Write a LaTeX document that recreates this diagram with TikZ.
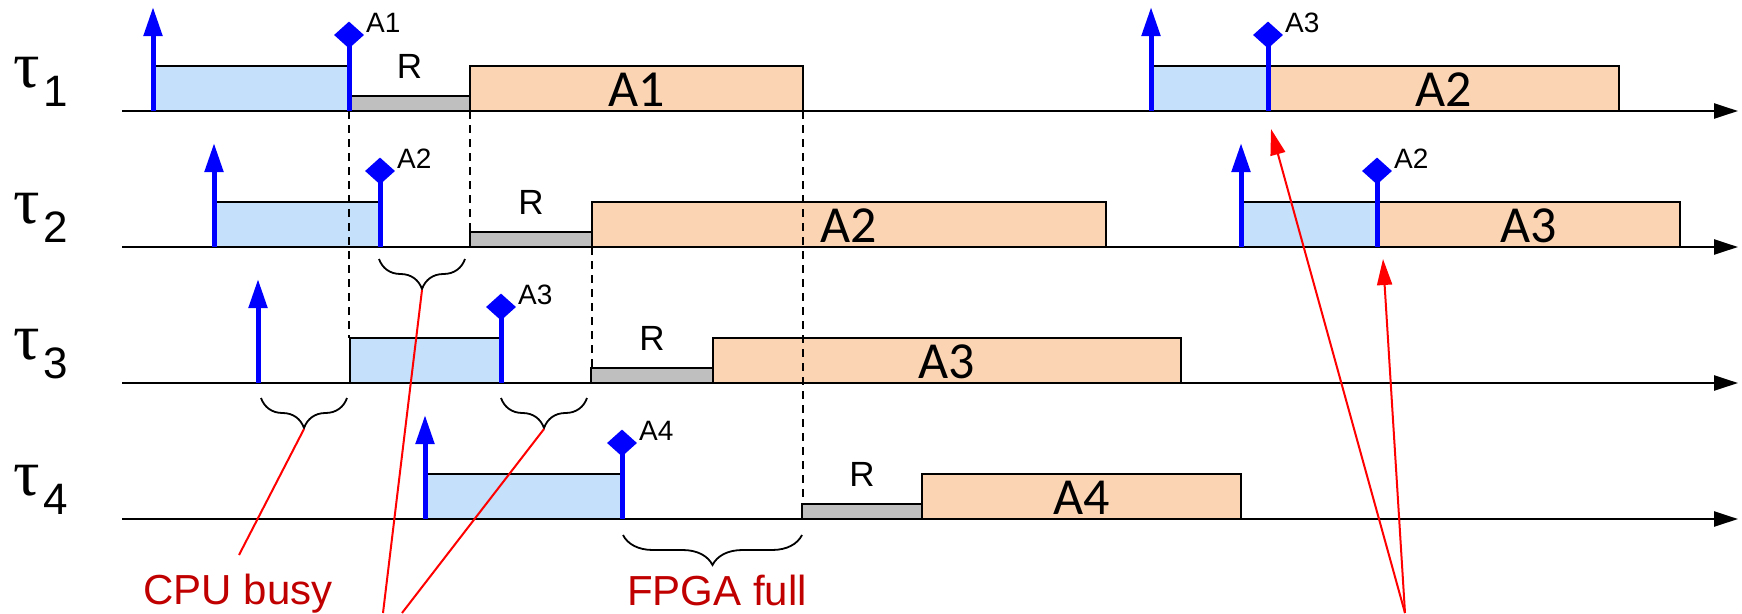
\documentclass[tikz,border=0pt]{standalone}
\usepackage{fontspec}
\setmainfont{Liberation Sans}
\newfontfamily\calib{Carlito}
\newfontfamily\tauserif{Liberation Serif}
\usetikzlibrary{arrows.meta,shapes.geometric,decorations.pathreplacing}
\definecolor{cpufill}{HTML}{C5E0FA}
\definecolor{fpgafill}{HTML}{FBD4B4}
\definecolor{rfill}{HTML}{BFBFBF}
\definecolor{txtred}{HTML}{C00000}
\newcommand\relmk[3]{%
  \coordinate (#1) at (#2,#3);
  \draw[relarrow] (#1) -- ++(0,-104);}
\newcommand\dlmk[4]{%
  \node[dlmark] (#1) at (#2,#3-76) {};
  \draw[dlstem] (#2,#3) -- (#1.center);
  \node[dllabel] (#1l) at (#2+17,#3-79) {#4};}
\newcommand\taulab[3]{%
  \node[taulabel] (#1) at (13,#2-24) {{\tauserif\fontsize{66}{66}\selectfont τ}\kern4pt\raisebox{-19pt}{\fontsize{44}{44}\selectfont #3}};}
\begin{document}
\begin{tikzpicture}[x=1pt,y=-1pt,
 axisline/.style={line width=2.5pt,-{Triangle[length=24pt,width=15pt]}},
 cpubox/.style={draw=black,line width=1.5pt,fill=cpufill},
 fpgabox/.style={draw=black,line width=1.5pt,fill=fpgafill},
 rbox/.style={draw=black,line width=1.5pt,fill=rfill},
 relarrow/.style={blue,line width=5pt,-{Triangle[length=29pt,width=18pt]}},
 dlstem/.style={blue,line width=5pt},
 dlmark/.style={diamond,fill=blue,inner sep=0pt,minimum width=30pt,minimum height=27pt},
 dllabel/.style={font=\fontsize{28}{28}\selectfont,anchor=base west,inner sep=0pt},
 rlabel/.style={font=\fontsize{35}{35}\selectfont,anchor=base,inner sep=0pt},
 boxlabel/.style={font=\calib\fontsize{52}{52}\selectfont,anchor=base,inner sep=0pt},
 guide/.style={line width=1.5pt,dash pattern=on 8pt off 6pt},
 bracedec/.style={decorate,decoration={brace,mirror,amplitude=30pt},line width=1.8pt},
 note/.style={red,line width=2pt},
 notearrow/.style={red,line width=2pt,-{Triangle[length=26pt,width=15pt]}},
 notetext/.style={font=\fontsize{42}{42}\selectfont,text=txtred,anchor=base,inner sep=0pt},
 taulabel/.style={anchor=base west,inner sep=0pt}
]
\useasboundingbox (0,0) rectangle (1742,613);

% ---- boxes row 1 (baseline 111)
\draw[cpubox] (153,66) rectangle (349,111);
\draw[rbox] (349,96) rectangle (470,111);
\draw[fpgabox] (470,66) rectangle (803,111);
\draw[cpubox] (1151,66) rectangle (1268,111);
\draw[fpgabox] (1268,66) rectangle (1619,111);
\node[rlabel] (r1) at (409.5,78) {R};
\node[boxlabel] (a11) at (636.5,106) {A1};
\node[boxlabel] (a12) at (1443.5,106) {A2};

% ---- row 2 (baseline 247)
\draw[cpubox] (214,202) rectangle (380,247);
\draw[rbox] (470,232) rectangle (592,247);
\draw[fpgabox] (592,202) rectangle (1106,247);
\draw[cpubox] (1241,202) rectangle (1377,247);
\draw[fpgabox] (1377,202) rectangle (1680,247);
\node[rlabel] (r2) at (531,214) {R};
\node[boxlabel] (a21) at (849,242) {A2};
\node[boxlabel] (a22) at (1528.5,242) {A3};

% ---- row 3 (baseline 383)
\draw[cpubox] (350,338) rectangle (501,383);
\draw[rbox] (591,368) rectangle (713,383);
\draw[fpgabox] (713,338) rectangle (1181,383);
\node[rlabel] (r3) at (652,350) {R};
\node[boxlabel] (a31) at (947,378) {A3};

% ---- row 4 (baseline 519)
\draw[cpubox] (425,474) rectangle (622,519);
\draw[rbox] (802,504) rectangle (922,519);
\draw[fpgabox] (922,474) rectangle (1241,519);
\node[rlabel] (r4) at (862,486) {R};
\node[boxlabel] (a41) at (1081.5,514) {A4};

% ---- dashed guides
\draw[guide] (349,111) -- (349,338);
\draw[guide] (470,111) -- (470,232);
\draw[guide] (592,247) -- (592,368);
\draw[guide] (803,111) -- (803,504);

% ---- axes
\foreach \b/\n in {111/1,247/2,383/3,519/4}{
  \coordinate (ax\n s) at (122,\b);
  \coordinate (ax\n e) at (1738,\b);
  \draw[axisline] (ax\n s) -- (ax\n e);
}

% ---- releases and deadlines
\relmk{rel11}{153}{111}
\relmk{rel12}{1151}{111}
\relmk{rel21}{214}{247}
\relmk{rel22}{1241}{247}
\relmk{rel31}{258}{383}
\relmk{rel41}{425}{519}
\dlmk{dl11}{349}{111}{A1}
\dlmk{dl12}{1268}{111}{A3}
\dlmk{dl21}{380}{247}{A2}
\dlmk{dl22}{1377}{247}{A2}
\dlmk{dl31}{501}{383}{A3}
\dlmk{dl41}{622}{519}{A4}

% ---- task labels
\taulab{tau1}{111}{1}
\taulab{tau2}{247}{2}
\taulab{tau3}{383}{3}
\taulab{tau4}{519}{4}

% ---- braces
\draw[bracedec] (379,259) -- (465,259);
\draw[bracedec] (261,398) -- (347,398);
\draw[bracedec] (501,398) -- (587,398);
\draw[bracedec] (623,535) -- (802,535);
\coordinate (br2) at (422,290);
\coordinate (br3a) at (304,429);
\coordinate (br3b) at (544,429);
\coordinate (br4) at (712.5,566);

% ---- notes
\node[notetext] (cpu) at (238,604) {CPU busy};
\node[notetext] (fpga) at (717,605) {FPGA full};
\coordinate (cpuend) at (239,555);
\coordinate (bot1) at (383,613);
\coordinate (bot2) at (402,613);
\coordinate (bot3) at (1405,613);
\coordinate (tip1) at (1271,129);
\coordinate (tip2) at (1383,259);
\draw[note] (br3a) -- (cpuend);
\draw[note] (br2) -- (bot1);
\draw[note] (br3b) -- (bot2);
\draw[notearrow] (bot3) -- (tip1);
\draw[notearrow] (bot3) -- (tip2);
\end{tikzpicture}
\end{document}
